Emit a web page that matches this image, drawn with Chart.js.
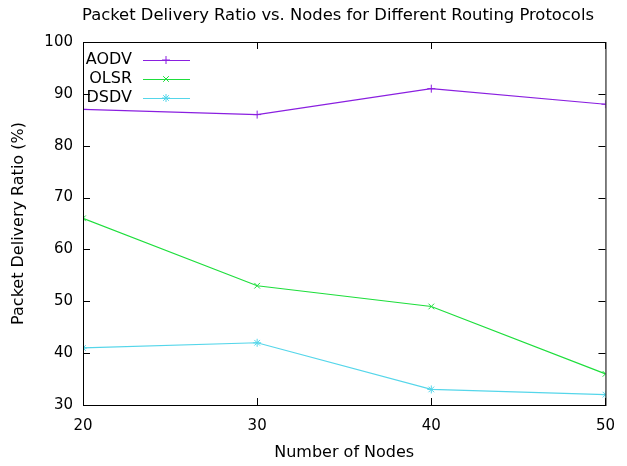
<!DOCTYPE html>
<html>
<head>
<meta charset="utf-8">
<script src="https://cdn.jsdelivr.net/npm/chart.js@4"></script>
<style>
  html, body { margin: 0; padding: 0; background: #fff; }
  #wrap { width: 627px; height: 466px; }
</style>
</head>
<body>
<div id="wrap"><canvas id="pdrChart"></canvas></div>
<script>
const FONT = "'DejaVu Sans', sans-serif";
const TITLE = 'Packet Delivery Ratio vs. Nodes for Different Routing Protocols';

const nodes = [20, 30, 40, 50];
const aodv = [87, 86, 91, 88];
const olsr = [66, 53, 49, 36];
const dsdv = [41, 42, 33, 32];
const yTicks = [30, 40, 50, 60, 70, 80, 90, 100];

const series = [
  { label: 'AODV', values: aodv, color: '#8a1fe0', style: 'cross' },
  { label: 'OLSR', values: olsr, color: '#1ede3c', style: 'crossRot' },
  { label: 'DSDV', values: dsdv, color: '#55d6ea', style: 'star' },
];

const toPoints = (vals) => nodes.map((n, i) => ({ x: n, y: vals[i] }));

/* gnuplot-like frame, inward ticks, title and key */
const gnuFrame = {
  id: 'gnuFrame',
  afterDraw(chart) {
    const { ctx, chartArea: a, scales } = chart;
    ctx.save();

    // title, centred over the plot like gnuplot does
    ctx.fillStyle = '#000';
    ctx.font = '16.4px ' + FONT;
    ctx.textAlign = 'center';
    ctx.textBaseline = 'middle';
    ctx.fillText(TITLE, 338, 16);

    ctx.strokeStyle = '#000';
    ctx.lineWidth = 1;
    ctx.strokeRect(a.left + 0.5, a.top + 0.5, a.right - a.left, a.bottom - a.top);
    const len = 7;
    ctx.beginPath();
    yTicks.forEach(v => {
      const y = Math.round(scales.y.getPixelForValue(v)) + 0.5;
      ctx.moveTo(a.left, y); ctx.lineTo(a.left + len, y);
      ctx.moveTo(a.right, y); ctx.lineTo(a.right - len, y);
    });
    nodes.forEach(v => {
      const x = Math.round(scales.x.getPixelForValue(v)) + 0.5;
      ctx.moveTo(x, a.bottom); ctx.lineTo(x, a.bottom - len);
      ctx.moveTo(x, a.top); ctx.lineTo(x, a.top + len);
    });
    ctx.stroke();

    // key
    ctx.font = '16px ' + FONT;
    ctx.textAlign = 'right';
    series.forEach((s, i) => {
      const y = 60 + i * 19;
      ctx.fillStyle = '#000';
      ctx.fillText(s.label, 132, y);
      ctx.strokeStyle = s.color;
      ctx.beginPath();
      ctx.moveTo(143, y + 0.5); ctx.lineTo(190, y + 0.5);
      ctx.stroke();
      Chart.helpers.drawPoint(ctx, { pointStyle: s.style, radius: 4, borderWidth: 1 }, 166, y);
    });
    ctx.restore();
  }
};

const config = {
  type: 'line',
  data: {
    datasets: series.map(s => ({
      label: s.label,
      data: toPoints(s.values),
      borderColor: s.color,
      backgroundColor: s.color,
      borderWidth: 1.2,
      pointStyle: s.style,
      pointRadius: 4,
      pointBorderWidth: 1,
      tension: 0,
    }))
  },
  options: {
    responsive: true,
    maintainAspectRatio: false,
    animation: false,
    layout: { padding: { left: 5, right: 17, top: 42, bottom: 0 } },
    scales: {
      x: {
        type: 'linear',
        min: 20,
        max: 50,
        afterBuildTicks(scale) { scale.ticks = nodes.map(v => ({ value: v })); },
        afterFit(scale) { scale.height = 61; },
        grid: { display: false, drawTicks: false },
        border: { display: false },
        ticks: { color: '#000', font: { family: FONT, size: 15 }, padding: 12, maxRotation: 0 },
        title: { display: true, text: 'Number of Nodes', color: '#000', font: { family: FONT, size: 16 }, padding: { top: 6 } }
      },
      y: {
        min: 30,
        max: 100,
        afterBuildTicks(scale) { scale.ticks = yTicks.map(v => ({ value: v })); },
        afterFit(scale) { scale.width = 78; },
        grid: { display: false, drawTicks: false },
        border: { display: false },
        ticks: { color: '#000', font: { family: FONT, size: 15 }, padding: 10 },
        title: { display: true, text: 'Packet Delivery Ratio (%)', color: '#000', font: { family: FONT, size: 16 }, padding: { bottom: 12 } }
      }
    },
    plugins: {
      legend: { display: false },
      tooltip: { enabled: false },
      title: { display: false }
    }
  },
  plugins: [gnuFrame]
};

const pdrChart = new Chart(document.getElementById('pdrChart'), config);
</script>
</body>
</html>
